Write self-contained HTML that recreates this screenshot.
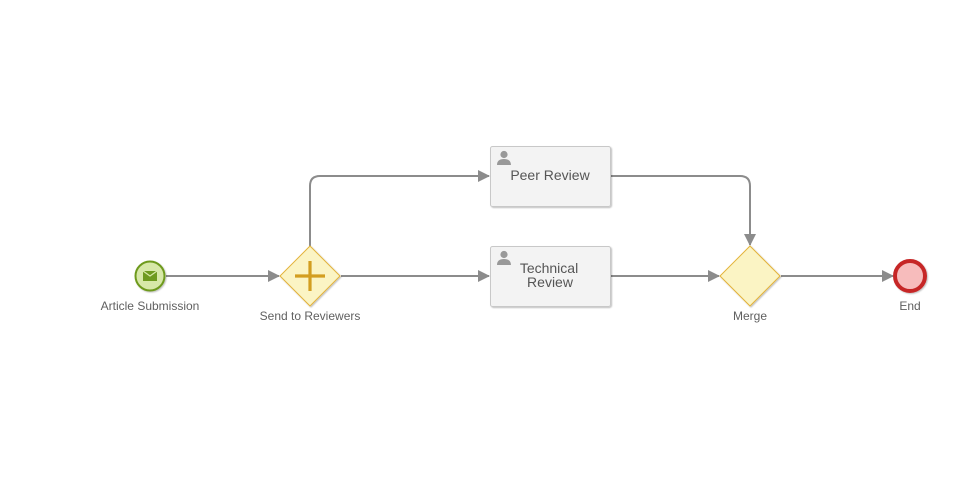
<!DOCTYPE html>
<html><head><meta charset="utf-8"><style>
html,body{margin:0;padding:0;background:#fff;width:977px;height:479px;overflow:hidden}
text{font-family:"Liberation Sans",Arial,sans-serif}
</style></head><body>
<svg width="977" height="479" viewBox="0 0 977 479" xmlns="http://www.w3.org/2000/svg">
<defs>
<marker id="a" markerWidth="12" markerHeight="12" refX="11" refY="6" orient="auto" markerUnits="userSpaceOnUse">
<path d="M0,0 L12,6 L0,12 Z" fill="#8c8c8c"/></marker>
<filter id="s" x="-10%" y="-10%" width="130%" height="130%"><feDropShadow dx="1" dy="1" stdDeviation="0.8" flood-color="#000" flood-opacity="0.25"/></filter>
</defs>
<g stroke="#8c8c8c" stroke-width="2" fill="none">
<path d="M166,276 H279" marker-end="url(#a)"/>
<path d="M310,246 V186 Q310,176 320,176 H489" marker-end="url(#a)"/>
<path d="M341,276 H489" marker-end="url(#a)"/>
<path d="M611,176 H740 Q750,176 750,186 V245" marker-end="url(#a)"/>
<path d="M611,276 H719" marker-end="url(#a)"/>
<path d="M781,276 H893" marker-end="url(#a)"/>
</g>
<circle cx="150" cy="276" r="14.5" fill="#d7e8a8" stroke="#6e9a1f" stroke-width="2" filter="url(#s)"/>
<path d="M143,271 H157 V281 H143 Z" fill="#6e9a1f"/>
<path d="M143,271 L150,276 L157,271" stroke="#d7e8a8" stroke-width="1.2" fill="none"/>
<text x="150" y="310" font-size="12" fill="#606060" text-anchor="middle">Article Submission</text>
<path d="M310,246 L340,276 L310,306 L280,276 Z" fill="#fbf4c4" stroke="#e3b33a" stroke-width="1" filter="url(#s)"/>
<path d="M310,261 V291 M295,276 H325" stroke="#d39e20" stroke-width="3.2"/>
<text x="310" y="320" font-size="12" fill="#606060" text-anchor="middle">Send to Reviewers</text>
<rect x="490.5" y="146.5" width="120" height="60" rx="2" fill="#f3f3f3" stroke="#c8c8c8" filter="url(#s)"/>
<g fill="#999"><circle cx="504" cy="154.5" r="3.6"/><path d="M497,165 Q497,159 504,159 Q511,159 511,165 Z"/></g>
<text x="550" y="180" font-size="14" fill="#555" text-anchor="middle">Peer Review</text>
<rect x="490.5" y="246.5" width="120" height="60" rx="2" fill="#f3f3f3" stroke="#c8c8c8" filter="url(#s)"/>
<g fill="#999"><circle cx="504" cy="254.5" r="3.6"/><path d="M497,265 Q497,259 504,259 Q511,259 511,265 Z"/></g>
<text x="549" y="273" font-size="14" fill="#555" text-anchor="middle">Technical</text>
<text x="550" y="287" font-size="14" fill="#555" text-anchor="middle">Review</text>
<path d="M750,246 L780,276 L750,306 L720,276 Z" fill="#fbf4c4" stroke="#e3b33a" stroke-width="1" filter="url(#s)"/>
<text x="750" y="320" font-size="12" fill="#606060" text-anchor="middle">Merge</text>
<circle cx="910" cy="276" r="15" fill="#f7bcbc" stroke="#c62828" stroke-width="4" filter="url(#s)"/>
<text x="910" y="310" font-size="12" fill="#606060" text-anchor="middle">End</text>
</svg>
</body></html>
